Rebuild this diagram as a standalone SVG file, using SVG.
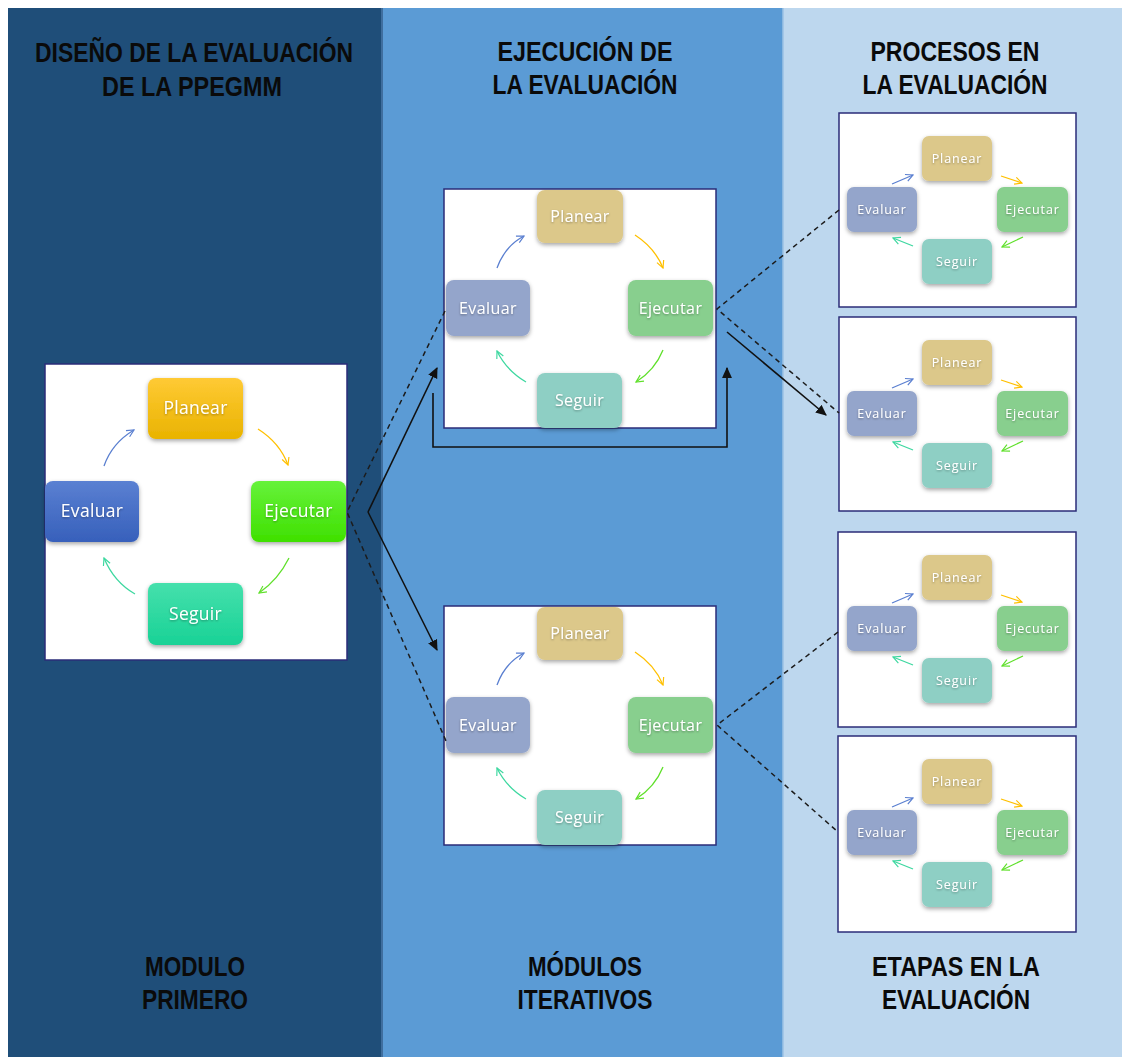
<svg xmlns="http://www.w3.org/2000/svg" width="1122" height="1057" viewBox="0 0 1122 1057">
<defs>
<style>
.hdr{font-family:"Liberation Sans Narrow","Liberation Sans",Arial,sans-serif;font-weight:bold;font-size:28px;fill:#0a0a0a;text-anchor:middle}
.box{fill:#fff;stroke:#2b2d78;stroke-width:1.5}
.nl{font-family:"Open Sans","Noto Sans",sans-serif;fill:#fff;text-anchor:middle}
.big{font-size:17.5px;letter-spacing:0.3px}
.mid{font-size:16px;letter-spacing:0.4px}
.sm{font-size:12.5px;letter-spacing:0.9px}
.dash{fill:none;stroke:#1c1c1c;stroke-width:1.5;stroke-dasharray:5 4}
.solid{fill:none;stroke:#111;stroke-width:1.6}
.cb{fill:none;stroke:#5a7fd0;stroke-width:1.3}
.cg{fill:none;stroke:#ffc000;stroke-width:1.3}
.cgr{fill:none;stroke:#5fe02a;stroke-width:1.3}
.ct{fill:none;stroke:#3ed8a0;stroke-width:1.3}
.pw{fill:#dcc88a}
.ew{fill:#94a5cb}
.jw{fill:#88cf8e}
.sw{fill:#8ecfc4}
</style>
<linearGradient id="gP" x1="0" y1="0" x2="0" y2="1"><stop offset="0" stop-color="#ffca35"/><stop offset="1" stop-color="#e9b300"/></linearGradient>
<linearGradient id="gE" x1="0" y1="0" x2="0" y2="1"><stop offset="0" stop-color="#5a80d2"/><stop offset="1" stop-color="#3760bb"/></linearGradient>
<linearGradient id="gJ" x1="0" y1="0" x2="0" y2="1"><stop offset="0" stop-color="#66f23a"/><stop offset="1" stop-color="#3fe000"/></linearGradient>
<linearGradient id="gS" x1="0" y1="0" x2="0" y2="1"><stop offset="0" stop-color="#45e0ac"/><stop offset="1" stop-color="#19d296"/></linearGradient>
<filter id="sh" x="-20%" y="-20%" width="140%" height="150%"><feDropShadow dx="0" dy="2" stdDeviation="2" flood-color="#000" flood-opacity="0.35"/></filter>
<filter id="ts" x="-10%" y="-30%" width="120%" height="160%"><feDropShadow dx="0" dy="1" stdDeviation="0.8" flood-color="#000" flood-opacity="0.35"/></filter>
<marker id="mb" viewBox="0 0 10 10" refX="9" refY="5" markerWidth="9" markerHeight="9" markerUnits="userSpaceOnUse" orient="auto"><path d="M1,1 L9,5 L1,9" fill="none" stroke="#5a7fd0" stroke-width="1.3"/></marker>
<marker id="mg" viewBox="0 0 10 10" refX="9" refY="5" markerWidth="9" markerHeight="9" markerUnits="userSpaceOnUse" orient="auto"><path d="M1,1 L9,5 L1,9" fill="none" stroke="#ffc000" stroke-width="1.3"/></marker>
<marker id="mgr" viewBox="0 0 10 10" refX="9" refY="5" markerWidth="9" markerHeight="9" markerUnits="userSpaceOnUse" orient="auto"><path d="M1,1 L9,5 L1,9" fill="none" stroke="#5fe02a" stroke-width="1.3"/></marker>
<marker id="mt" viewBox="0 0 10 10" refX="9" refY="5" markerWidth="9" markerHeight="9" markerUnits="userSpaceOnUse" orient="auto"><path d="M1,1 L9,5 L1,9" fill="none" stroke="#3ed8a0" stroke-width="1.3"/></marker>
<marker id="ma" viewBox="0 0 10 10" refX="9" refY="5" markerWidth="11" markerHeight="11" markerUnits="userSpaceOnUse" orient="auto"><path d="M0,0.5 L10,5 L0,9.5 Z" fill="#111"/></marker>
</defs>

<!-- background panels -->
<rect x="0" y="0" width="1122" height="1057" fill="#ffffff"/>
<rect x="8" y="8" width="375" height="1049" fill="#1f4e79"/>
<rect x="383" y="8" width="400" height="1049" fill="#5b9bd5"/>
<rect x="783" y="8" width="339" height="1049" fill="#bdd7ee"/>
<rect x="381" y="8" width="2" height="1049" fill="#3f6e9e"/>
<rect x="782" y="8" width="1.5" height="1049" fill="#8cb8e0"/>

<!-- headers -->
<g id="headers">
<text class="hdr" x="194" y="62" textLength="318" lengthAdjust="spacingAndGlyphs">DISEÑO  DE LA EVALUACIÓN</text>
<text class="hdr" x="192" y="96" textLength="180" lengthAdjust="spacingAndGlyphs">DE LA PPEGMM</text>
<text class="hdr" x="585" y="61" textLength="175" lengthAdjust="spacingAndGlyphs">EJECUCIÓN  DE</text>
<text class="hdr" x="585" y="94" textLength="185" lengthAdjust="spacingAndGlyphs">LA EVALUACIÓN</text>
<text class="hdr" x="955" y="61" textLength="169" lengthAdjust="spacingAndGlyphs">PROCESOS  EN</text>
<text class="hdr" x="955" y="94" textLength="185" lengthAdjust="spacingAndGlyphs">LA EVALUACIÓN</text>
<text class="hdr" x="195" y="976" textLength="100" lengthAdjust="spacingAndGlyphs">MODULO</text>
<text class="hdr" x="195" y="1009" textLength="106" lengthAdjust="spacingAndGlyphs">PRIMERO</text>
<text class="hdr" x="585" y="976" textLength="114" lengthAdjust="spacingAndGlyphs">MÓDULOS</text>
<text class="hdr" x="585" y="1009" textLength="135" lengthAdjust="spacingAndGlyphs">ITERATIVOS</text>
<text class="hdr" x="956" y="976" textLength="168" lengthAdjust="spacingAndGlyphs">ETAPAS EN LA</text>
<text class="hdr" x="956" y="1009" textLength="148" lengthAdjust="spacingAndGlyphs">EVALUACIÓN</text>
</g>

<!-- Module 1 (big) -->
<g id="modulo-primero">
<rect class="box" x="45" y="364" width="302" height="296"/>
<g id="m1-planear"><rect x="148" y="378" width="95" height="61" rx="8" fill="url(#gP)" filter="url(#sh)"/><text class="nl big" x="195.5" y="414" filter="url(#ts)">Planear</text></g>
<g id="m1-evaluar"><rect x="45" y="481" width="94" height="61" rx="8" fill="url(#gE)" filter="url(#sh)"/><text class="nl big" x="92" y="517" filter="url(#ts)">Evaluar</text></g>
<g id="m1-ejecutar"><rect x="251" y="481" width="95" height="61" rx="8" fill="url(#gJ)" filter="url(#sh)"/><text class="nl big" x="298.5" y="517" filter="url(#ts)">Ejecutar</text></g>
<g id="m1-seguir"><rect x="148" y="583" width="95" height="62" rx="8" fill="url(#gS)" filter="url(#sh)"/><text class="nl big" x="195.5" y="620" filter="url(#ts)">Seguir</text></g>
<path class="cb" d="M104,466 Q112,443 134,430" marker-end="url(#mb)"/>
<path class="cg" d="M258,429 Q280,443 288,465" marker-end="url(#mg)"/>
<path class="cgr" d="M289,558 Q278,580 259,593" marker-end="url(#mgr)"/>
<path class="ct" d="M135,594 Q114,582 104,558" marker-end="url(#mt)"/>
</g>

<!-- Iterative module 1 -->
<g id="iter-1">
<rect class="box" x="444" y="189" width="272" height="239"/>
<g id="it1-planear"><rect class="pw" x="537" y="190" width="86" height="53" rx="8" filter="url(#sh)"/><text class="nl mid" x="580" y="222" filter="url(#ts)">Planear</text></g>
<g id="it1-evaluar"><rect class="ew" x="446" y="280" width="84" height="56" rx="8" filter="url(#sh)"/><text class="nl mid" x="488" y="314" filter="url(#ts)">Evaluar</text></g>
<g id="it1-ejecutar"><rect class="jw" x="628" y="280" width="85" height="56" rx="8" filter="url(#sh)"/><text class="nl mid" x="670.5" y="314" filter="url(#ts)">Ejecutar</text></g>
<g id="it1-seguir"><rect class="sw" x="537" y="373" width="85" height="55" rx="8" filter="url(#sh)"/><text class="nl mid" x="579.5" y="406" filter="url(#ts)">Seguir</text></g>
<path class="cb" d="M497,268 Q505,246 524,236" marker-end="url(#mb)"/>
<path class="cg" d="M635,235 Q655,248 663,268" marker-end="url(#mg)"/>
<path class="cgr" d="M663,350 Q655,370 636,382" marker-end="url(#mgr)"/>
<path class="ct" d="M526,382 Q506,370 497,351" marker-end="url(#mt)"/>
</g>

<!-- Iterative module 2 -->
<g id="iter-2">
<rect class="box" x="444" y="606" width="272" height="239"/>
<g id="it2-planear"><rect class="pw" x="537" y="607" width="86" height="53" rx="8" filter="url(#sh)"/><text class="nl mid" x="580" y="639" filter="url(#ts)">Planear</text></g>
<g id="it2-evaluar"><rect class="ew" x="446" y="697" width="84" height="56" rx="8" filter="url(#sh)"/><text class="nl mid" x="488" y="731" filter="url(#ts)">Evaluar</text></g>
<g id="it2-ejecutar"><rect class="jw" x="628" y="697" width="85" height="56" rx="8" filter="url(#sh)"/><text class="nl mid" x="670.5" y="731" filter="url(#ts)">Ejecutar</text></g>
<g id="it2-seguir"><rect class="sw" x="537" y="790" width="85" height="55" rx="8" filter="url(#sh)"/><text class="nl mid" x="579.5" y="823" filter="url(#ts)">Seguir</text></g>
<path class="cb" d="M497,685 Q505,663 524,653" marker-end="url(#mb)"/>
<path class="cg" d="M635,652 Q655,665 663,685" marker-end="url(#mg)"/>
<path class="cgr" d="M663,767 Q655,787 636,799" marker-end="url(#mgr)"/>
<path class="ct" d="M526,799 Q506,787 497,768" marker-end="url(#mt)"/>
</g>

<!-- Stage A -->
<g id="etapa-a">
<rect class="box" x="839" y="113" width="237" height="194"/>
<g id="ea-planear"><rect class="pw" x="922" y="136" width="70" height="45" rx="7" filter="url(#sh)"/><text class="nl sm" x="957" y="163" filter="url(#ts)">Planear</text></g>
<g id="ea-evaluar"><rect class="ew" x="847" y="187" width="70" height="45" rx="7" filter="url(#sh)"/><text class="nl sm" x="882" y="214" filter="url(#ts)">Evaluar</text></g>
<g id="ea-ejecutar"><rect class="jw" x="997" y="187" width="71" height="45" rx="7" filter="url(#sh)"/><text class="nl sm" x="1032.5" y="214" filter="url(#ts)">Ejecutar</text></g>
<g id="ea-seguir"><rect class="sw" x="922" y="239" width="70" height="45" rx="7" filter="url(#sh)"/><text class="nl sm" x="957" y="266" filter="url(#ts)">Seguir</text></g>
<path class="cb" d="M892,184 L913,175" marker-end="url(#mb)"/>
<path class="cg" d="M1001,176 L1022,183" marker-end="url(#mg)"/>
<path class="cgr" d="M1023,237 L1002,247" marker-end="url(#mgr)"/>
<path class="ct" d="M913,246 L893,238" marker-end="url(#mt)"/>
</g>

<!-- Stage B -->
<g id="etapa-b">
<rect class="box" x="839" y="317" width="237" height="194"/>
<g id="eb-planear"><rect class="pw" x="922" y="340" width="70" height="45" rx="7" filter="url(#sh)"/><text class="nl sm" x="957" y="367" filter="url(#ts)">Planear</text></g>
<g id="eb-evaluar"><rect class="ew" x="847" y="391" width="70" height="45" rx="7" filter="url(#sh)"/><text class="nl sm" x="882" y="418" filter="url(#ts)">Evaluar</text></g>
<g id="eb-ejecutar"><rect class="jw" x="997" y="391" width="71" height="45" rx="7" filter="url(#sh)"/><text class="nl sm" x="1032.5" y="418" filter="url(#ts)">Ejecutar</text></g>
<g id="eb-seguir"><rect class="sw" x="922" y="443" width="70" height="45" rx="7" filter="url(#sh)"/><text class="nl sm" x="957" y="470" filter="url(#ts)">Seguir</text></g>
<path class="cb" d="M892,388 L913,379" marker-end="url(#mb)"/>
<path class="cg" d="M1001,380 L1022,387" marker-end="url(#mg)"/>
<path class="cgr" d="M1023,441 L1002,451" marker-end="url(#mgr)"/>
<path class="ct" d="M913,450 L893,442" marker-end="url(#mt)"/>
</g>

<!-- Stage C -->
<g id="etapa-c">
<rect class="box" x="838" y="532" width="238" height="195"/>
<g id="ec-planear"><rect class="pw" x="922" y="555" width="70" height="45" rx="7" filter="url(#sh)"/><text class="nl sm" x="957" y="582" filter="url(#ts)">Planear</text></g>
<g id="ec-evaluar"><rect class="ew" x="847" y="606" width="70" height="45" rx="7" filter="url(#sh)"/><text class="nl sm" x="882" y="633" filter="url(#ts)">Evaluar</text></g>
<g id="ec-ejecutar"><rect class="jw" x="997" y="606" width="71" height="45" rx="7" filter="url(#sh)"/><text class="nl sm" x="1032.5" y="633" filter="url(#ts)">Ejecutar</text></g>
<g id="ec-seguir"><rect class="sw" x="922" y="658" width="70" height="45" rx="7" filter="url(#sh)"/><text class="nl sm" x="957" y="685" filter="url(#ts)">Seguir</text></g>
<path class="cb" d="M892,603 L913,594" marker-end="url(#mb)"/>
<path class="cg" d="M1001,595 L1022,602" marker-end="url(#mg)"/>
<path class="cgr" d="M1023,656 L1002,666" marker-end="url(#mgr)"/>
<path class="ct" d="M913,665 L893,657" marker-end="url(#mt)"/>
</g>

<!-- Stage D -->
<g id="etapa-d">
<rect class="box" x="838" y="736" width="238" height="196"/>
<g id="ed-planear"><rect class="pw" x="922" y="759" width="70" height="45" rx="7" filter="url(#sh)"/><text class="nl sm" x="957" y="786" filter="url(#ts)">Planear</text></g>
<g id="ed-evaluar"><rect class="ew" x="847" y="810" width="70" height="45" rx="7" filter="url(#sh)"/><text class="nl sm" x="882" y="837" filter="url(#ts)">Evaluar</text></g>
<g id="ed-ejecutar"><rect class="jw" x="997" y="810" width="71" height="45" rx="7" filter="url(#sh)"/><text class="nl sm" x="1032.5" y="837" filter="url(#ts)">Ejecutar</text></g>
<g id="ed-seguir"><rect class="sw" x="922" y="862" width="70" height="45" rx="7" filter="url(#sh)"/><text class="nl sm" x="957" y="889" filter="url(#ts)">Seguir</text></g>
<path class="cb" d="M892,807 L913,798" marker-end="url(#mb)"/>
<path class="cg" d="M1001,799 L1022,806" marker-end="url(#mg)"/>
<path class="cgr" d="M1023,860 L1002,870" marker-end="url(#mgr)"/>
<path class="ct" d="M913,869 L893,861" marker-end="url(#mt)"/>
</g>

<!-- connectors -->
<g id="connectors">
<path class="dash" d="M445,311 L347,512 L446,741"/>
<path class="solid" d="M368,512 L437,368" marker-end="url(#ma)"/>
<path class="solid" d="M368,512 L437,650" marker-end="url(#ma)"/>
<path class="solid" d="M433,393 L433,447 L727,447 L727,368" marker-end="url(#ma)"/>
<path class="dash" d="M839,210 L717,309 L839,413"/>
<path class="solid" d="M727,332 L826,415" marker-end="url(#ma)"/>
<path class="dash" d="M838,632 L717,725 L838,832"/>
</g>
</svg>
